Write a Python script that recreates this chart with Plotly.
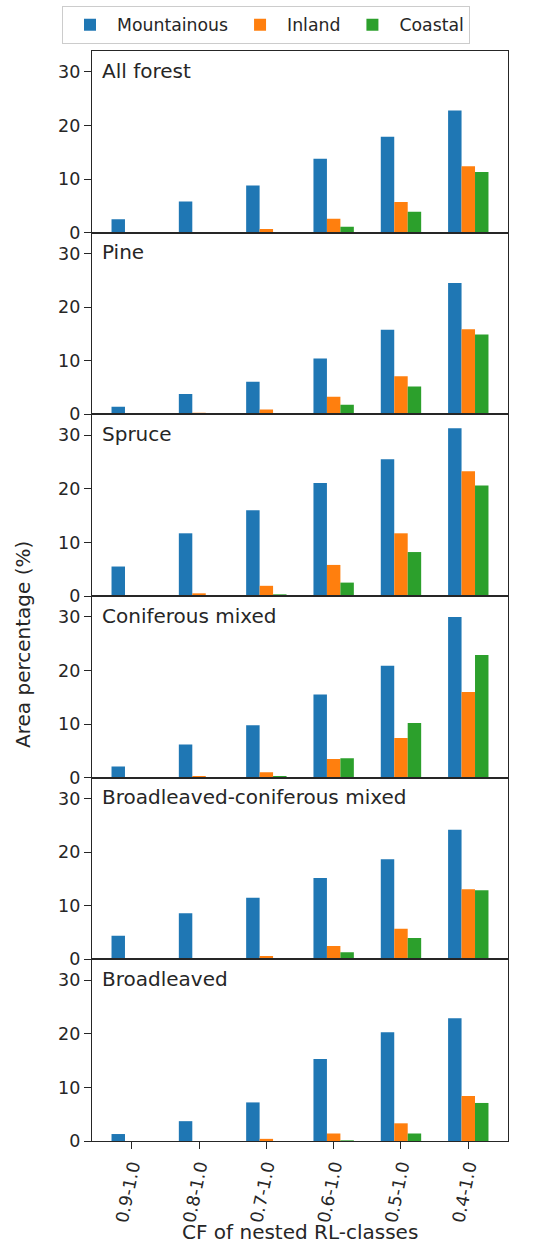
import plotly.graph_objects as go
from plotly.subplots import make_subplots

categories = ["0.9-1.0", "0.8-1.0", "0.7-1.0", "0.6-1.0", "0.5-1.0", "0.4-1.0"]
panels = ["All forest", "Pine", "Spruce", "Coniferous mixed",
          "Broadleaved-coniferous mixed", "Broadleaved"]
series_names = ["Mountainous", "Inland", "Coastal"]
colors = ["#1f77b4", "#ff7f0e", "#2ca02c"]

all_forest_m = [2.5, 5.8, 8.8, 13.8, 17.9, 22.8]
all_forest_i = [0.0, 0.1, 0.7, 2.6, 5.7, 12.4]
all_forest_c = [0.0, 0.0, 0.05, 1.1, 3.9, 11.3]

pine_m = [1.4, 3.8, 6.1, 10.4, 15.8, 24.5]
pine_i = [0.0, 0.3, 0.9, 3.3, 7.1, 15.9]
pine_c = [0.0, 0.0, 0.1, 1.8, 5.2, 14.9]

spruce_m = [5.5, 11.7, 16.0, 21.1, 25.5, 31.3]
spruce_i = [0.0, 0.5, 1.9, 5.8, 11.7, 23.3]
spruce_c = [0.0, 0.0, 0.3, 2.5, 8.2, 20.6]

conif_m = [2.1, 6.2, 9.8, 15.5, 20.9, 30.0]
conif_i = [0.0, 0.2, 1.0, 3.5, 7.4, 16.0]
conif_c = [0.0, 0.0, 0.25, 3.6, 10.2, 22.9]

bcmix_m = [4.4, 8.6, 11.5, 15.2, 18.7, 24.2]
bcmix_i = [0.0, 0.0, 0.6, 2.5, 5.7, 13.1]
bcmix_c = [0.0, 0.0, 0.0, 1.3, 4.0, 12.9]

broad_m = [1.3, 3.7, 7.2, 15.3, 20.3, 22.9]
broad_i = [0.0, 0.0, 0.4, 1.4, 3.3, 8.4]
broad_c = [0.0, 0.0, 0.0, 0.1, 1.4, 7.1]

yticks = [0, 10, 20, 30]

data = [
    (all_forest_m, all_forest_i, all_forest_c),
    (pine_m, pine_i, pine_c),
    (spruce_m, spruce_i, spruce_c),
    (conif_m, conif_i, conif_c),
    (bcmix_m, bcmix_i, bcmix_c),
    (broad_m, broad_i, broad_c),
]

FONT = "DejaVu Sans"
INK = "#262626"
fig = make_subplots(rows=6, cols=1, shared_xaxes=True, vertical_spacing=0)

for r, vals in enumerate(data, start=1):
    for s, (name, col, v) in enumerate(zip(series_names, colors, vals)):
        fig.add_trace(go.Bar(x=categories, y=v, name=name, marker_color=col,
                             marker_line_width=0, showlegend=(r == 1)),
                      row=r, col=1)
    fig.update_yaxes(range=[0, 33.9], tickvals=yticks, ticks="outside", ticklen=7,
                     tickwidth=1.2, tickcolor=INK, showline=True, linecolor=INK,
                     linewidth=1.3, mirror=True, showgrid=False, zeroline=False,
                     automargin=False, tickfont=dict(family=FONT, size=17.5, color=INK),
                     row=r, col=1)
    fig.update_xaxes(range=[-0.59, 5.59], showline=True, linecolor=INK,
                     linewidth=1.3, mirror=True, showgrid=False, automargin=False,
                     ticks="outside" if r == 6 else "", ticklen=7, tickwidth=1.2,
                     tickcolor=INK, showticklabels=(r == 6), tickangle=-78,
                     tickfont=dict(family=FONT, size=17.5, color=INK),
                     row=r, col=1)
    fig.add_annotation(text=panels[r - 1], xref="x domain" if r == 1 else f"x{r} domain",
                       yref="y domain" if r == 1 else f"y{r} domain",
                       x=0.02, y=0.892, xanchor="left", yanchor="middle", showarrow=False,
                       font=dict(family=FONT, size=20, color=INK))

fig.add_annotation(text="CF of nested RL-classes", xref="paper", yref="paper",
                   x=0.5, y=-0.0835, showarrow=False, xanchor="center", yanchor="middle",
                   font=dict(family=FONT, size=20, color=INK))

fig.add_annotation(text="Area percentage (%)", xref="paper", yref="paper",
                   x=-0.166, y=0.456, textangle=-90, showarrow=False,
                   xanchor="center", yanchor="middle",
                   font=dict(family=FONT, size=20, color=INK))

fig.update_layout(
    width=533, height=1245,
    margin=dict(l=92, r=25, t=51, b=104),
    paper_bgcolor="white", plot_bgcolor="white",
    barmode="group", bargap=0.4, bargroupgap=0,
    font=dict(family=FONT, size=17.5, color=INK),
    legend=dict(orientation="h", xref="container", yref="container",
                x=62 / 533, y=1 - 6 / 1245, xanchor="left", yanchor="top",
                bordercolor="#cccccc", borderwidth=1, bgcolor="white",
                itemwidth=44, font=dict(family=FONT, size=17.3, color=INK)),
)

fig.write_html("out.html", config={"displayModeBar": False},
               post_script="document.body.style.margin='0';document.body.style.padding='0';")
